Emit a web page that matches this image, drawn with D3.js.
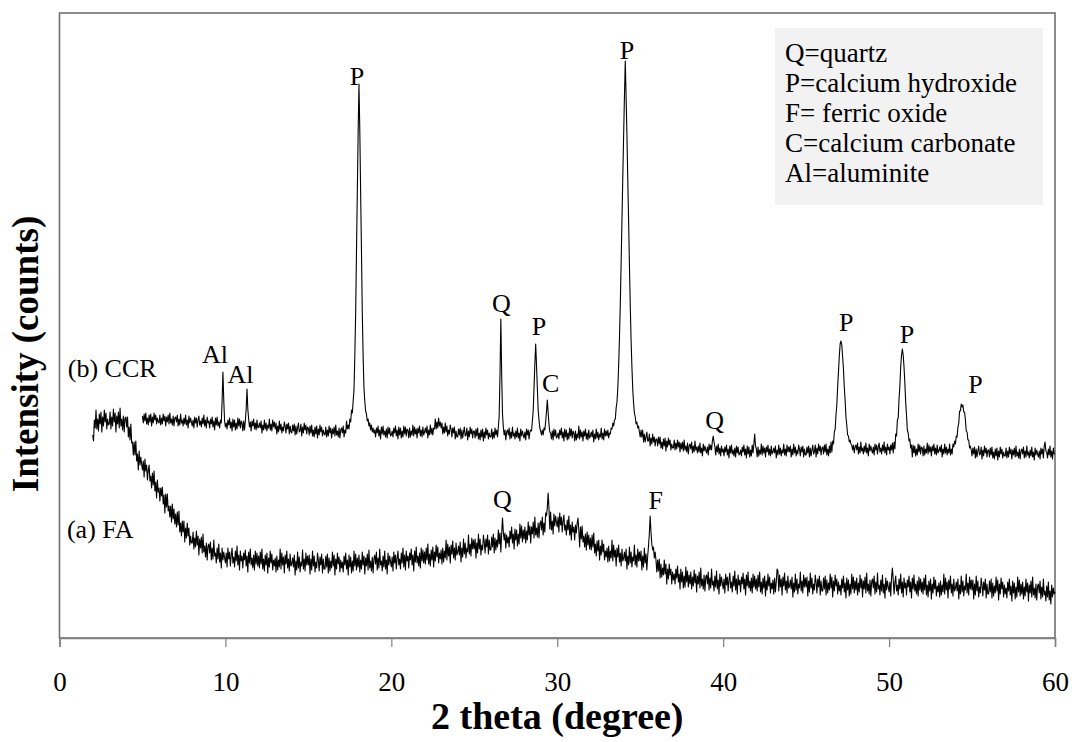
<!DOCTYPE html>
<html><head><meta charset="utf-8">
<script src="https://cdn.jsdelivr.net/npm/d3@7"></script>
<style>body{margin:0;background:#fff}svg{display:block}text{font-family:"Liberation Serif","Times New Roman",serif;fill:#000}</style>
</head><body>
<script>
// ---- data ----
const xTicks = [0, 10, 20, 30, 40, 50, 60];
const ccrStart = 5.0, ccrStep = 0.05;
const ccrValues = [
222,215,224,217,225,214,220,213,223,216,224,212,221,215,225,218,223,214,220,216,
215,223,213,220,214,224,217,222,212,221,216,223,214,225,215,219,213,222,212,220,
221,216,223,212,219,213,224,215,218,212,220,214,223,213,218,210,222,215,220,216,
212,218,210,221,215,220,211,218,222,213,217,211,220,214,223,212,218,210,221,215,
217,210,219,214,221,211,217,208,220,213,221,212,216,210,218,215,237,266,238,217,
211,215,209,218,213,220,210,216,207,219,211,218,208,215,209,220,212,219,210,217,
215,207,217,208,217,229,249,229,219,211,216,207,217,212,219,209,215,208,218,210,
211,215,210,217,205,213,208,218,209,215,207,213,210,219,208,214,207,218,211,216,
209,215,204,212,206,217,208,214,205,211,207,216,212,205,214,209,215,204,212,206,
205,213,207,214,203,212,204,210,215,206,207,214,202,211,205,215,208,213,204,211,
210,203,212,205,213,202,208,201,211,204,212,200,209,203,213,206,211,202,208,204,
203,211,201,208,202,212,205,210,200,209,204,211,202,213,203,207,201,210,200,208,
210,205,212,201,208,205,217,209,213,209,219,216,228,225,237,248,283,325,387,446,
506,554,507,445,387,325,282,250,237,227,224,217,219,212,215,208,213,206,210,205,
208,201,210,205,212,202,208,199,211,204,212,203,207,201,209,200,211,204,210,202,
203,207,201,210,205,212,202,208,199,211,203,210,200,207,201,212,204,211,202,209,
208,200,210,201,207,203,213,202,211,204,209,200,210,205,212,202,208,201,211,203,
206,210,205,212,200,208,203,213,204,210,203,210,209,219,209,216,210,220,212,216,
210,215,204,211,205,215,206,212,202,208,204,213,209,201,210,205,211,199,207,201,
201,209,203,210,199,208,200,206,211,202,203,210,198,207,201,211,204,209,200,207,
207,200,209,202,210,199,205,198,208,201,209,197,206,200,210,203,208,199,205,201,
201,209,199,206,200,210,203,208,201,211,222,264,319,264,224,211,203,208,198,206,
208,203,210,199,206,200,211,202,205,199,207,201,210,200,205,197,209,202,207,203,
200,206,198,209,203,208,199,206,208,207,217,227,250,274,294,273,250,228,218,210,
207,203,208,203,210,208,216,226,238,226,214,206,205,199,207,198,209,202,208,200,
201,205,199,208,203,210,200,206,197,209,201,208,198,205,199,210,202,209,200,207,
205,197,207,198,204,200,212,199,208,201,206,197,207,202,209,199,205,198,208,200,
202,206,201,208,196,204,199,209,200,206,198,204,201,210,199,205,198,209,202,207,
202,208,200,205,204,210,209,215,212,218,219,230,236,250,272,300,334,375,418,461,
502,542,577,541,503,459,418,373,333,298,271,249,235,225,221,214,216,210,212,206,
201,208,201,208,196,204,196,201,206,197,197,204,192,200,194,204,196,201,192,199,
199,192,201,194,201,190,196,189,199,192,200,187,197,191,200,193,198,188,194,190,
190,198,188,195,189,198,191,196,186,195,189,196,187,198,188,192,186,195,184,192,
194,189,196,185,192,186,197,188,191,185,192,186,195,185,190,182,194,187,192,188,
185,191,183,194,188,193,188,197,202,196,191,183,192,186,194,184,190,182,192,186,
189,182,191,186,193,183,189,180,192,185,193,184,188,182,190,181,192,185,191,183,
184,188,182,191,186,193,183,189,180,192,184,191,181,188,182,193,185,194,204,192,
189,181,191,182,188,184,194,183,192,185,190,181,191,186,193,183,189,182,192,184,
186,190,185,192,180,188,183,193,184,190,182,188,185,194,183,189,182,193,186,191,
186,192,181,189,183,194,185,191,182,188,184,193,189,182,191,186,192,181,189,183,
183,191,185,192,181,190,182,188,193,184,186,193,181,190,184,194,187,192,183,190,
191,184,193,186,194,183,189,182,192,185,196,186,197,194,206,209,223,233,251,266,
282,294,297,293,281,269,251,238,221,213,203,202,196,198,194,193,188,193,185,191,
193,188,195,184,191,185,196,187,190,184,192,186,195,185,190,182,194,187,192,188,
185,191,183,194,188,193,184,191,195,186,190,184,193,187,196,185,191,183,194,188,
191,184,193,188,195,185,196,189,204,202,218,220,239,252,271,283,289,283,271,255,
236,223,208,205,197,199,190,193,181,193,185,192,182,189,183,194,186,193,184,191,
190,182,192,183,189,185,195,184,193,186,191,182,192,187,194,184,190,183,193,185,
187,191,186,193,181,189,184,194,185,191,183,189,185,194,183,189,184,194,191,197,
194,202,201,211,215,227,227,234,231,233,226,226,218,207,206,198,198,190,192,188,
182,190,184,191,180,189,181,187,192,183,184,191,179,188,182,192,185,190,181,188,
188,181,190,183,191,180,186,179,189,182,190,178,187,181,191,184,189,180,186,182,
182,190,180,187,181,191,184,189,179,188,183,190,181,192,182,186,180,189,179,187,
189,184,191,180,187,181,192,183,186,180,188,182,191,181,186,178,190,183,188,184,
181,187,179,190,184,189,180,192,196,187,186,180,189,183,192,181,187,179,190,184,
184
];
const faStart = 2.0, faStep = 0.05;
const faValues = [
203,197,218,210,228,209,219,207,224,214,226,206,221,212,228,216,225,209,219,213,
214,226,209,221,212,229,216,225,206,222,214,226,210,230,212,219,208,222,206,220,
221,211,221,201,211,198,214,195,196,183,196,183,197,177,184,168,187,173,181,174,
168,177,161,179,167,173,158,168,173,157,162,150,165,153,167,147,156,140,158,146,
150,137,150,142,151,134,143,125,144,131,144,127,132,121,132,116,134,119,129,114,
124,111,126,113,127,106,115,102,117,106,117,96,110,100,115,102,110,93,102,95,
95,106,89,100,91,107,93,102,83,99,90,101,85,104,86,92,81,95,78,92,
94,85,96,78,90,79,98,82,85,75,90,79,94,76,85,70,90,78,86,80,
75,85,71,90,79,86,72,83,90,75,81,71,87,77,92,73,83,68,87,77,
82,70,85,78,88,72,82,66,86,75,89,73,80,70,83,68,87,74,85,72,
82,70,86,74,89,69,79,67,83,73,85,65,80,71,87,75,84,68,78,72,
80,66,82,68,78,71,89,69,85,73,81,65,83,74,87,70,79,67,84,72,
74,80,71,83,63,77,68,86,70,81,66,76,72,88,69,79,67,85,73,82,
73,83,64,79,68,87,72,82,66,76,70,85,78,67,81,73,84,65,79,69,
69,82,71,84,65,80,67,77,70,86,72,83,63,79,69,85,74,81,66,78,
70,76,66,82,73,85,69,78,63,83,71,81,65,77,67,87,72,84,68,80,
71,83,66,78,69,86,73,82,64,80,72,84,68,88,70,77,67,81,65,79,
83,74,86,68,80,70,89,73,77,67,82,71,87,69,78,64,85,73,82,76,
71,81,67,86,75,83,69,80,87,73,79,69,85,75,90,71,83,68,87,77,
82,70,85,78,89,73,83,67,87,76,91,75,82,72,85,70,90,77,88,75,
86,74,90,78,94,74,84,72,88,78,91,71,86,77,93,81,91,75,85,79,
88,74,90,76,87,80,98,78,94,82,91,75,93,84,97,80,90,78,95,83,
86,92,83,96,76,90,81,99,84,95,80,90,86,103,84,94,82,100,89,98,
89,99,80,95,85,104,89,99,83,93,88,103,96,85,99,91,103,84,98,88,
88,101,91,104,85,100,88,98,91,108,94,105,86,104,120,106,98,105,90,103,
95,101,91,107,99,111,95,104,89,109,98,108,92,104,94,114,100,112,96,108,
99,111,95,107,98,116,103,112,95,111,104,116,100,121,103,110,101,115,100,114,
117,108,121,103,115,106,125,122,130,145,130,109,126,108,117,104,124,112,122,116,
111,121,106,125,113,121,106,117,123,108,113,103,118,108,122,103,113,98,116,106,
111,98,113,105,115,120,108,91,111,99,112,96,102,91,104,88,106,93,103,89,
100,88,103,91,105,85,94,82,97,87,98,78,92,83,98,86,94,78,87,81,
90,76,92,77,87,80,98,77,93,81,88,72,90,81,93,76,85,72,89,77,
80,86,77,89,69,82,73,91,75,86,71,81,77,93,73,83,71,89,77,86,
77,87,68,82,71,90,75,84,68,82,92,104,122,106,94,88,91,80,86,78,
66,78,67,79,60,74,61,70,63,78,64,74,54,69,59,74,63,69,54,66,
58,64,54,69,60,72,56,64,49,69,56,66,50,62,51,71,56,67,51,63,
54,66,49,61,52,68,55,64,46,62,54,66,50,70,52,59,49,63,47,61,
63,54,66,48,60,50,69,53,57,47,62,51,67,49,58,44,64,52,61,55,
49,59,45,64,53,61,47,58,65,50,56,46,62,52,67,48,59,44,63,53,
58,46,61,54,65,49,59,43,63,52,66,50,57,47,60,45,64,51,62,49,
59,47,63,51,66,46,56,44,60,50,62,42,57,48,64,52,61,45,55,49,
58,44,60,46,56,69,67,47,63,51,59,43,61,52,65,48,57,45,62,50,
52,58,49,61,41,55,46,64,48,59,44,54,50,66,47,57,45,63,51,60,
51,61,42,57,46,65,50,60,44,54,48,63,56,45,59,51,62,43,57,47,
47,60,49,62,43,58,45,55,48,64,50,61,41,57,47,63,52,59,44,56,
47,53,43,59,50,62,46,55,40,60,48,58,42,54,44,64,49,61,45,57,
48,60,43,55,46,63,50,59,41,57,49,61,45,65,47,54,44,58,42,56,
59,50,62,44,56,46,65,49,53,43,58,47,63,45,54,40,60,48,57,51,
46,56,42,61,70,58,44,55,62,47,53,43,59,49,64,45,56,41,60,50,
55,43,58,51,62,46,56,40,60,49,63,47,54,44,57,42,61,48,59,46,
56,44,60,48,63,43,53,41,57,47,59,39,54,45,61,49,58,42,52,46,
55,41,57,43,53,46,64,44,60,48,56,40,58,49,62,45,54,42,59,47,
50,56,47,59,39,53,44,62,46,57,42,52,48,64,45,55,43,61,49,58,
48,58,39,54,43,62,47,57,41,51,45,60,53,42,56,48,59,40,54,44,
44,57,46,59,40,55,42,52,45,61,47,58,38,54,44,60,49,56,41,53,
44,50,40,56,47,59,43,52,37,57,45,55,39,51,41,61,46,58,42,54,
44,56,39,51,42,59,46,55,37,53,45,57,41,61,43,50,40,54,38,52,
54,45,57,39,51,41,59,43,47,37,52,41,56,38,47,34,53,41,50,44,
46
];
// peak annotations: text, 2theta, intensity at the text baseline
const peakLabels = ["Al","Al","P","Q","P","C","P","Q","P","P","P","Q","F"];
const peakX      = [9.37,10.91,17.93,26.64,28.9,29.6,34.2,39.48,47.41,51.08,55.2,26.7,35.93];
const peakY      = [275,255,553,326,303,246,579,209,307,295,245,130,129];
const curveNames = ["(b) CCR","(a) FA"];
const curveNameX = [0.5,0.45];
const curveNameY = [261,100];
const legendLines = ["Q=quartz","P=calcium hydroxide","F= ferric oxide","C=calcium carbonate","Al=aluminite"];

// ---- layout ----
const W = 1076, H = 742;
const L = 59.5, R = 1055, T = 13, B = 638;
const svg = d3.select("body").append("svg").attr("width", W).attr("height", H);

const x = d3.scaleLinear().domain([0, 60]).range([L, R]);
const y = d3.scaleLinear().domain([0, 625]).range([B, T]);

// frame
svg.append("rect").attr("x", L).attr("y", T).attr("width", R - L).attr("height", B - T)
  .attr("fill", "none").attr("stroke", "#707070").attr("stroke-width", 1.6);

// x axis
const ax = svg.append("g").attr("transform", `translate(0,${B})`)
  .call(d3.axisBottom(x).tickValues(xTicks).tickSize(9).tickPadding(0).tickFormat(d3.format("d")));
ax.select(".domain").attr("stroke", "#808080").attr("stroke-width", 1.6);
ax.selectAll(".tick line").attr("stroke", "#808080").attr("stroke-width", 1.2);
ax.selectAll(".tick text").attr("y", 53).attr("dy", null).attr("font-size", 27)
  .style("font-family", "'Liberation Serif','Times New Roman',serif").attr("fill", "#000");

// legend box
const lg = svg.append("g");
lg.append("rect").attr("x", 775).attr("y", 28).attr("width", 268).attr("height", 177).attr("fill", "#f2f2f2");
lg.selectAll("text").data(legendLines).join("text")
  .attr("x", 785).attr("y", (d, i) => 62 + i * 30).attr("font-size", 27).text(d => d);

// curves
const line = d3.line().x(d => x(d[0])).y(d => y(d[1]));
const toPts = (start, st, vals) => vals.map((v, i) => [+(start + i * st).toFixed(3), v]);
svg.append("path").datum(toPts(faStart, faStep, faValues)).attr("d", line)
  .attr("fill", "none").attr("stroke", "#000").attr("stroke-width", 1.1).attr("stroke-linejoin", "round");
svg.append("path").datum(toPts(ccrStart, ccrStep, ccrValues)).attr("d", line)
  .attr("fill", "none").attr("stroke", "#000").attr("stroke-width", 1.1).attr("stroke-linejoin", "round");

// peak labels
svg.selectAll("text.pk").data(peakLabels).join("text").attr("class", "pk")
  .attr("x", (d, i) => x(peakX[i])).attr("y", (d, i) => y(peakY[i]))
  .attr("text-anchor", "middle").attr("font-size", 26).text(d => d);

// curve names
svg.selectAll("text.cn").data(curveNames).join("text").attr("class", "cn")
  .attr("x", (d, i) => x(curveNameX[i])).attr("y", (d, i) => y(curveNameY[i]))
  .attr("font-size", 26).text(d => d);

// axis titles
svg.append("text").attr("x", (L + R) / 2).attr("y", 729).attr("text-anchor", "middle")
  .attr("font-size", 38).attr("font-weight", "bold").text("2 theta (degree)");
svg.append("text").attr("transform", `translate(38,354) rotate(-90)`)
  .attr("text-anchor", "middle").attr("font-size", 37).attr("font-weight", "bold").text("Intensity (counts)");
</script>
</body></html>
